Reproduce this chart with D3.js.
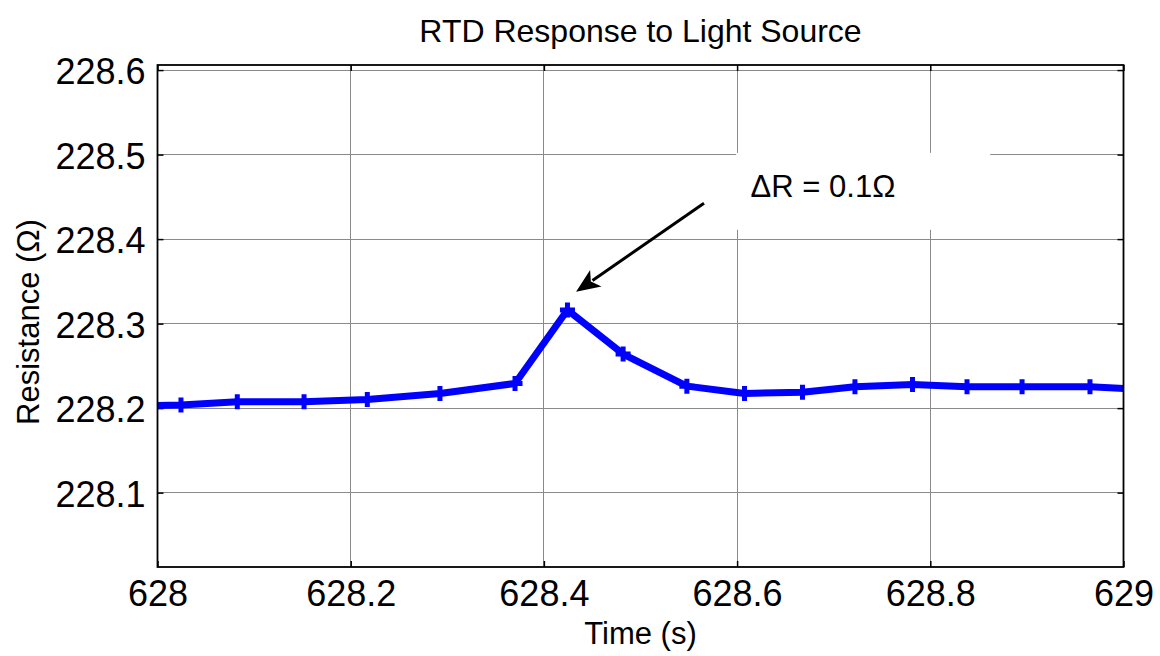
<!DOCTYPE html>
<html>
<head>
<meta charset="utf-8">
<script src="https://cdn.jsdelivr.net/npm/d3@7/dist/d3.min.js"></script>
<style>
html,body{margin:0;padding:0;background:#fff;}
svg{display:block;font-family:"Liberation Sans",Arial,Helvetica,sans-serif;}
</style>
</head>
<body>
<svg id="chart" width="1160" height="656"></svg>
<script>
// ---- data ----
const timeS = [627.965, 628.0243, 628.0826, 628.1517, 628.2172, 628.2924, 628.3701, 628.4244, 628.482, 628.548, 628.6077, 628.6677, 628.722, 628.7816, 628.838, 628.895, 628.9653, 629.03];
const resistance = [228.2025, 228.2036, 228.2075, 228.2075, 228.2103, 228.2174, 228.2292, 228.3160, 228.2639, 228.2260, 228.2174, 228.2189, 228.2252, 228.2280, 228.2252, 228.2252, 228.2252, 228.2215];
const xTicks = [628, 628.2, 628.4, 628.6, 628.8, 629];
const yTicks = [228.1, 228.2, 228.3, 228.4, 228.5, 228.6];
const xDomain = [628, 629];
const yDomain = [228.012, 228.606];
const titleText = "RTD Response to Light Source";
const xLabel = "Time (s)";
const yLabel = "Resistance (\u03A9)";
const annotText = "\u0394R = 0.1\u03A9";
const annotTextPos = [628.614, 228.450];
const annotBox = [[628.599, 228.502], [628.862, 228.411]];
const arrowFrom = [628.5657, 228.4424];
const arrowTo = [628.4333, 228.3376];

// ---- layout ----
const svg = d3.select("#chart");
const L = 157.5, R = 1123.5, T = 65, B = 567;
const x = d3.scaleLinear().domain(xDomain).range([L, R]);
const y = d3.scaleLinear().domain(yDomain).range([B, T]);

// grid
const grid = svg.append("g").attr("stroke", "#8a8a8a").attr("stroke-width", 1).attr("shape-rendering", "crispEdges");
grid.selectAll(".gx").data(xTicks).join("line")
  .attr("x1", d => x(d)).attr("x2", d => x(d)).attr("y1", T).attr("y2", B);
grid.selectAll(".gy").data(yTicks).join("line")
  .attr("x1", L).attr("x2", R).attr("y1", d => y(d)).attr("y2", d => y(d));

// white box behind annotation
svg.append("rect")
  .attr("x", x(annotBox[0][0])).attr("y", y(annotBox[0][1]))
  .attr("width", x(annotBox[1][0]) - x(annotBox[0][0]))
  .attr("height", y(annotBox[1][1]) - y(annotBox[0][1]))
  .attr("fill", "#fff");

// axes (ticks inward)
const tickLen = 6;
const axB = d3.axisBottom(x).tickValues(xTicks).tickSize(-tickLen).tickPadding(13).tickFormat(d3.format("~g"));
const axT = d3.axisTop(x).tickValues(xTicks).tickSize(-tickLen).tickFormat("");
const axLft = d3.axisLeft(y).tickValues(yTicks).tickSize(-tickLen).tickPadding(12).tickFormat(d3.format(".1f"));
const axRgt = d3.axisRight(y).tickValues(yTicks).tickSize(-tickLen).tickFormat("");

function styleAxis(g) {
  g.select(".domain").remove();
  g.selectAll(".tick line").attr("stroke", "#000").attr("stroke-width", 1.5);
  g.selectAll(".tick text").attr("fill", "#000").style("font-size", "36px")
   .style("font-family", "'Liberation Sans', Arial, sans-serif");
}
svg.append("g").attr("transform", `translate(0,${B})`).call(axB).call(styleAxis)
  .selectAll(".tick text").attr("dy", "0.71em");
svg.append("g").attr("transform", `translate(0,${T})`).call(axT).call(styleAxis);
svg.append("g").attr("transform", `translate(${L},0)`).call(axLft).call(styleAxis)
  .selectAll(".tick text").attr("dy", "0.38em");
svg.append("g").attr("transform", `translate(${R},0)`).call(axRgt).call(styleAxis);

// clip
svg.append("clipPath").attr("id", "clip").append("rect")
  .attr("x", L).attr("y", T).attr("width", R - L).attr("height", B - T);

const pts = timeS.map((t, i) => [t, resistance[i]]);
const line = d3.line().x(d => x(d[0])).y(d => y(d[1]));
const plot = svg.append("g").attr("clip-path", "url(#clip)");
plot.append("path").datum(pts).attr("d", line)
  .attr("fill", "none").attr("stroke", "#0000ff").attr("stroke-width", 7)
  .attr("stroke-linejoin", "round");
const ms = 7.5;
plot.selectAll(".mk").data(pts.filter(d => d[0] >= xDomain[0] && d[0] <= xDomain[1])).join("path")
  .attr("d", d => `M${x(d[0]) - ms},${y(d[1])}H${x(d[0]) + ms}M${x(d[0])},${y(d[1]) - ms}V${y(d[1]) + ms}`)
  .attr("stroke", "#0000ff").attr("stroke-width", 5).attr("fill", "none");

// box
svg.append("rect").attr("x", L).attr("y", T).attr("width", R - L).attr("height", B - T)
  .attr("fill", "none").attr("stroke", "#000").attr("stroke-width", 1.8);

// annotation arrow
const ax0 = x(arrowFrom[0]), ay0 = y(arrowFrom[1]), ax1 = x(arrowTo[0]), ay1 = y(arrowTo[1]);
const ang = Math.atan2(ay1 - ay0, ax1 - ax0);
const hl = 24, hw = 10;
const bx = ax1 - hl * Math.cos(ang), by = ay1 - hl * Math.sin(ang);
svg.append("line").attr("x1", ax0).attr("y1", ay0).attr("x2", bx + 4 * Math.cos(ang)).attr("y2", by + 4 * Math.sin(ang))
  .attr("stroke", "#000").attr("stroke-width", 3);
svg.append("path")
  .attr("d", `M${ax1},${ay1}L${bx - hw * Math.sin(ang)},${by + hw * Math.cos(ang)}L${bx + 6 * Math.cos(ang)},${by + 6 * Math.sin(ang)}L${bx + hw * Math.sin(ang)},${by - hw * Math.cos(ang)}Z`)
  .attr("fill", "#000");
svg.append("text").attr("x", x(annotTextPos[0])).attr("y", y(annotTextPos[1]))
  .attr("font-size", 31).attr("fill", "#000").text(annotText);

// titles
svg.append("text").attr("x", (L + R) / 2).attr("y", 42).attr("text-anchor", "middle")
  .attr("font-size", 32).attr("fill", "#000").text(titleText);
svg.append("text").attr("x", (L + R) / 2).attr("y", 644).attr("text-anchor", "middle")
  .attr("font-size", 31).attr("fill", "#000").text(xLabel);
svg.append("text").attr("transform", `translate(39,${(T + B) / 2 + 6}) rotate(-90)`).attr("text-anchor", "middle")
  .attr("font-size", 31).attr("fill", "#000").text(yLabel);
</script>
</body>
</html>
